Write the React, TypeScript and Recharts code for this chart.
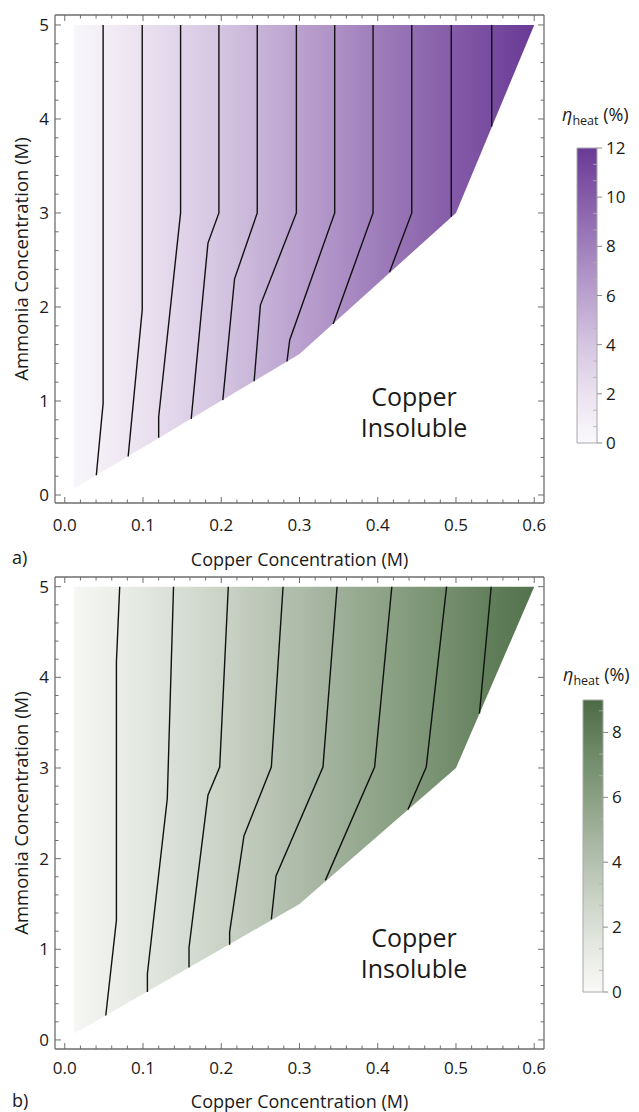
import React from 'react';
import { ComposedChart, BarChart, Bar, Area, Line, XAxis, YAxis } from 'recharts';

const FONT = '"Open Sans", "Noto Sans", "DejaVu Sans", sans-serif';
const AXIS_COLOR = '#6e6e6e';
const TEXT_COLOR = '#1a1a1a';

// ---------- axes ----------
const xMajorTicks = [0, 0.1, 0.2, 0.3, 0.4, 0.5, 0.6];
const xMinorTicks = [0.02, 0.04, 0.06, 0.08, 0.12, 0.14, 0.16, 0.18, 0.22, 0.24, 0.26, 0.28,
  0.32, 0.34, 0.36, 0.38, 0.42, 0.44, 0.46, 0.48, 0.52, 0.54, 0.56, 0.58];
const yMajorTicks = [0, 1, 2, 3, 4, 5];
const yMinorTicks = [0.2, 0.4, 0.6, 0.8, 1.2, 1.4, 1.6, 1.8, 2.2, 2.4, 2.6, 2.8,
  3.2, 3.4, 3.6, 3.8, 4.2, 4.4, 4.6, 4.8];
const xDomain = [-0.0125, 0.6125];
const yDomainA = [-0.085, 5.106];
const yDomainB = [-0.1, 5.107];

// ---------- soluble region (copper soluble) ----------
const boundaryX = [0.012, 0.3, 0.5, 0.6];
const boundaryLowY = [0.07, 1.5, 3.0, 5.0];
const boundaryTopY = 5;

// ---------- contours a) ----------
const levelsA = [1, 2, 3, 4, 5, 6, 7, 8, 9, 10, 11];
const contourAX = [
  [0.049, 0.049, 0.0403],
  [0.099, 0.099, 0.081],
  [0.148, 0.148, 0.12, 0.12],
  [0.197, 0.197, 0.183, 0.1616],
  [0.246, 0.246, 0.217, 0.202],
  [0.296, 0.296, 0.25, 0.242],
  [0.345, 0.345, 0.2875, 0.284],
  [0.394, 0.394, 0.343],
  [0.4435, 0.4435, 0.415],
  [0.494, 0.494],
  [0.5457, 0.5457],
];
const contourAY = [
  [5, 0.975, 0.21],
  [5, 1.97, 0.41],
  [5, 3.0, 0.83, 0.61],
  [5, 3.0, 2.68, 0.81],
  [5, 3.0, 2.3, 1.01],
  [5, 3.0, 2.02, 1.21],
  [5, 3.0, 1.65, 1.42],
  [5, 3.0, 1.82],
  [5, 3.0, 2.37],
  [5, 2.96],
  [5, 3.92],
];

// ---------- contours b) ----------
const levelsB = [1, 2, 3, 4, 5, 6, 7, 8];
const contourBX = [
  [0.0702, 0.066, 0.066, 0.0524],
  [0.139, 0.131, 0.1056, 0.1056],
  [0.209, 0.198, 0.183, 0.1588, 0.1588],
  [0.279, 0.264, 0.229, 0.2107, 0.2107],
  [0.348, 0.33, 0.27, 0.264],
  [0.418, 0.396, 0.333],
  [0.488, 0.462, 0.4385],
  [0.545, 0.53],
];
const contourBY = [
  [5, 4.17, 1.32, 0.27],
  [5, 2.66, 0.73, 0.53],
  [5, 3.01, 2.7, 1.02, 0.8],
  [5, 3.01, 2.25, 1.19, 1.05],
  [5, 3.01, 1.81, 1.33],
  [5, 3.01, 1.76],
  [5, 3.01, 2.54],
  [5, 3.6],
];

// ---------- colour bars ----------
const barMaxA = 12;
const barTicksA = [0, 2, 4, 6, 8, 10, 12];
const barMinorA = [0.667, 1.333, 2.667, 3.333, 4.667, 5.333, 6.667, 7.333, 8.667, 9.333, 10.667, 11.333];
const barMaxB = 9;
const barTicksB = [0, 2, 4, 6, 8];
const barMinorB = [0.667, 1.333, 2.667, 3.333, 4.667, 5.333, 6.667, 7.333, 8.667];
const fillEdgeLevelsA = [0.25, 12];
const fillEdgeLevelsB = [0.2, 8.6];

const purpleMap = ['#faf9fc', '#ebe2f0', '#d5c5e1', '#bba2cf', '#a07fbc', '#855ca8', '#693a96'];
const greenMap = ['#f9f9f7', '#e3e7e0', '#c8d1c4', '#aab8a5', '#8aa083', '#6b8764', '#4c6b45'];

// ---------- helpers ----------
function hexToRgb(h: string) {
  const v = parseInt(h.slice(1), 16);
  return [(v >> 16) & 255, (v >> 8) & 255, v & 255];
}
function cmap(colors: string[], t: number) {
  const tt = Math.max(0, Math.min(1, t));
  const n = colors.length - 1;
  const i = Math.min(n - 1, Math.floor(tt * n));
  const f = tt * n - i;
  const a = hexToRgb(colors[i]);
  const b = hexToRgb(colors[i + 1]);
  const c = a.map((av, k) => Math.round(av + (b[k] - av) * f));
  return `rgb(${c[0]},${c[1]},${c[2]})`;
}
const near = (v: number, step: number) => Math.abs(v / step - Math.round(v / step)) < 1e-6;

const BottomTick = (props: any) => {
  const { x, y, payload, labelDy } = props;
  const v = payload.value;
  const major = near(v, 0.1);
  return (
    <g>
      <line x1={x} x2={x} y1={y} y2={y - (major ? 6 : 3.5)} stroke={AXIS_COLOR} strokeWidth={1} />
      {major && (
        <text x={x} y={y + labelDy} textAnchor="middle" fontSize={17} fontFamily={FONT} fill={TEXT_COLOR}>
          {v.toFixed(1)}
        </text>
      )}
    </g>
  );
};
const TopTick = (props: any) => {
  const { x, y, payload } = props;
  const major = near(payload.value, 0.1);
  return <line x1={x} x2={x} y1={y} y2={y + (major ? 6 : 3.5)} stroke={AXIS_COLOR} strokeWidth={1} />;
};
const LeftTick = (props: any) => {
  const { x, y, payload } = props;
  const v = payload.value;
  const major = near(v, 1);
  return (
    <g>
      <line x1={x} x2={x + (major ? 6 : 3.5)} y1={y} y2={y} stroke={AXIS_COLOR} strokeWidth={1} />
      {major && (
        <text x={x - 6} y={y + 6} textAnchor="end" fontSize={17} fontFamily={FONT} fill={TEXT_COLOR}>
          {String(v)}
        </text>
      )}
    </g>
  );
};
const RightTick = (props: any) => {
  const { x, y, payload } = props;
  const major = near(payload.value, 1);
  return <line x1={x} x2={x - (major ? 6 : 3.5)} y1={y} y2={y} stroke={AXIS_COLOR} strokeWidth={1} />;
};
const BarTick = (props: any) => {
  const { x, y, payload } = props;
  const v = payload.value;
  const major = near(v, 2);
  return major ? (
    <g>
      <line x1={x} x2={x + 5} y1={y} y2={y} stroke="#8a8a8a" strokeWidth={1} />
      <text x={x + 9} y={y + 6} textAnchor="start" fontSize={17} fontFamily={FONT} fill={TEXT_COLOR}>
        {String(v)}
      </text>
    </g>
  ) : (
    <line x1={x - 4} x2={x} y1={y} y2={y} stroke="#b0b0b0" strokeWidth={0.8} />
  );
};

type PanelProps = {
  top: number;
  height: number;
  topAxisH: number;
  bottomAxisH: number;
  yDomain: number[];
  cx: number[][];
  cy: number[][];
  levels: number[];
  colors: string[];
  maxLevel: number;
  edgeLevels: number[];
  fillId: string;
  labelDy: number;
  titleDy: number;
};

function ContourPanel(p: PanelProps) {
  const areaData = boundaryX.map((x, i) => ({ x, band: [boundaryLowY[i], boundaryTopY] }));
  const x0 = boundaryX[0];
  const x1 = boundaryX[boundaryX.length - 1];
  const stops = [
    { o: 0, lv: p.edgeLevels[0] },
    ...p.levels.map((lv, i) => ({ o: (p.cx[i][0] - x0) / (x1 - x0), lv })),
    { o: 1, lv: p.edgeLevels[1] },
  ];
  return (
    <div style={{ position: 'absolute', left: 0, top: p.top }}>
      <ComposedChart width={639} height={p.height} data={areaData} margin={{ top: 0, right: 0, bottom: 0, left: 0 }}>
        <defs>
          <linearGradient id={p.fillId} x1="0" y1="0" x2="1" y2="0">
            {stops.map((s, i) => (
              <stop key={i} offset={s.o} stopColor={cmap(p.colors, s.lv / p.maxLevel)} />
            ))}
          </linearGradient>
        </defs>
        <XAxis
          xAxisId="b"
          dataKey="x"
          type="number"
          orientation="bottom"
          domain={xDomain}
          allowDataOverflow
          ticks={[...xMajorTicks, ...xMinorTicks]}
          interval={0}
          height={p.bottomAxisH}
          tickSize={0}
          tickMargin={0}
          tickLine={false}
          axisLine={{ stroke: AXIS_COLOR, strokeWidth: 1.3 }}
          tick={(tp: any) => <BottomTick {...tp} labelDy={p.labelDy} />}
          label={(lp: any) => {
            const vb = lp.viewBox || {};
            return (
              <text x={vb.x + vb.width / 2} y={vb.y + p.titleDy} textAnchor="middle" dominantBaseline="central"
                fontSize={18} fontFamily={FONT} fill={TEXT_COLOR}>
                Copper Concentration (M)
              </text>
            );
          }}
        />
        <XAxis
          xAxisId="t"
          dataKey="x"
          type="number"
          orientation="top"
          domain={xDomain}
          allowDataOverflow
          ticks={[...xMajorTicks, ...xMinorTicks]}
          interval={0}
          height={p.topAxisH}
          tickSize={0}
          tickMargin={0}
          tickLine={false}
          axisLine={{ stroke: AXIS_COLOR, strokeWidth: 1.3 }}
          tick={(tp: any) => <TopTick {...tp} />}
        />
        <YAxis
          yAxisId="l"
          type="number"
          orientation="left"
          domain={p.yDomain}
          allowDataOverflow
          ticks={[...yMajorTicks, ...yMinorTicks]}
          interval={0}
          width={55}
          tickSize={0}
          tickMargin={0}
          tickLine={false}
          axisLine={{ stroke: AXIS_COLOR, strokeWidth: 1.3 }}
          tick={(tp: any) => <LeftTick {...tp} />}
          label={(lp: any) => {
            const vb = lp.viewBox || {};
            const tx = vb.x + 20;
            const ty = vb.y + vb.height / 2;
            return (
              <text x={tx} y={ty} transform={`rotate(-90 ${tx} ${ty})`} textAnchor="middle" dominantBaseline="central"
                fontSize={18.5} fontFamily={FONT} fill={TEXT_COLOR}>
                Ammonia Concentration (M)
              </text>
            );
          }}
        />
        <YAxis
          yAxisId="r"
          type="number"
          orientation="right"
          domain={p.yDomain}
          allowDataOverflow
          ticks={[...yMajorTicks, ...yMinorTicks]}
          interval={0}
          width={95}
          tickSize={0}
          tickMargin={0}
          tickLine={false}
          axisLine={{ stroke: AXIS_COLOR, strokeWidth: 1.3 }}
          tick={(tp: any) => <RightTick {...tp} />}
        />
        <Area
          xAxisId="b"
          yAxisId="l"
          dataKey="band"
          type="linear"
          stroke="none"
          fill={`url(#${p.fillId})`}
          fillOpacity={1}
          isAnimationActive={false}
          dot={false}
          activeDot={false}
        />
        {p.cx.map((xs, i) => (
          <Line
            key={`c${i}`}
            xAxisId="b"
            yAxisId="l"
            data={xs.map((x, j) => ({ x, y: p.cy[i][j] }))}
            dataKey="y"
            type="linear"
            stroke="#111"
            strokeWidth={1.4}
            dot={false}
            activeDot={false}
            isAnimationActive={false}
          />
        ))}
      </ComposedChart>
    </div>
  );
}

type BarProps = {
  left: number;
  top: number;
  width: number;
  height: number;
  mTop: number;
  mBottom: number;
  mLeft: number;
  max: number;
  ticks: number[];
  minor: number[];
  colors: string[];
  id: string;
};

function ColorBar(b: BarProps) {
  const n = b.colors.length - 1;
  const data = [{ name: 'scale', range: [0, b.max] }];
  return (
    <div style={{ position: 'absolute', left: b.left, top: b.top }}>
      <BarChart width={b.width} height={b.height} data={data} barCategoryGap={0} barGap={0}
        margin={{ top: b.mTop, bottom: b.mBottom, left: b.mLeft, right: 0 }}>
        <defs>
          <linearGradient id={b.id} x1="0" y1="1" x2="0" y2="0">
            {b.colors.map((c, i) => (
              <stop key={i} offset={i / n} stopColor={c} />
            ))}
          </linearGradient>
        </defs>
        <XAxis dataKey="name" type="category" hide />
        <YAxis
          type="number"
          orientation="right"
          domain={[0, b.max]}
          ticks={[...b.ticks, ...b.minor]}
          interval={0}
          width={b.width - b.mLeft - 20}
          tickSize={0}
          tickMargin={0}
          tickLine={false}
          axisLine={false}
          tick={(tp: any) => <BarTick {...tp} />}
        />
        <Bar dataKey="range" fill={`url(#${b.id})`} stroke="#a8a8a8" strokeWidth={1} isAnimationActive={false} />
      </BarChart>
    </div>
  );
}

const BarTitle = ({ left, top }: { left: number; top: number }) => (
  <div style={{ position: 'absolute', left, top, fontFamily: FONT, fontSize: 18, lineHeight: '22px', color: TEXT_COLOR, whiteSpace: 'nowrap' }}>
    <i>η</i>
    <span style={{ fontSize: 12.5, position: 'relative', top: 4 }}>heat</span>
    <span> (%)</span>
  </div>
);

const Note = ({ left, top }: { left: number; top: number }) => (
  <div style={{ position: 'absolute', left, top, width: 200, textAlign: 'center', fontFamily: FONT, fontSize: 25, lineHeight: '31px', color: TEXT_COLOR }}>
    Copper
    <br />
    Insoluble
  </div>
);

const PanelLabel = ({ text, top }: { text: string; top: number }) => (
  <div style={{ position: 'absolute', left: 12, top, fontFamily: FONT, fontSize: 18, lineHeight: '22px', color: TEXT_COLOR }}>{text}</div>
);

export default function App() {
  return (
    <div style={{ position: 'absolute', left: 0, top: 0, width: 639, height: 1112, background: '#fff', overflow: 'hidden' }}>
      <ContourPanel top={0} height={575} topAxisH={15} bottomAxisH={72} yDomain={yDomainA}
        cx={contourAX} cy={contourAY} levels={levelsA} colors={purpleMap} maxLevel={barMaxA}
        edgeLevels={fillEdgeLevelsA} fillId="fillA" labelDy={28} titleDy={56} />
      <ContourPanel top={560} height={552} topAxisH={17} bottomAxisH={63} yDomain={yDomainB}
        cx={contourBX} cy={contourBY} levels={levelsB} colors={greenMap} maxLevel={barMaxB}
        edgeLevels={fillEdgeLevelsB} fillId="fillB" labelDy={25} titleDy={52} />
      <ColorBar left={560} top={130} width={79} height={330} mTop={18} mBottom={17} mLeft={17}
        max={barMaxA} ticks={barTicksA} minor={barMinorA} colors={purpleMap} id="cbA" />
      <ColorBar left={566} top={682} width={73} height={325} mTop={18} mBottom={15} mLeft={17}
        max={barMaxB} ticks={barTicksB} minor={barMinorB} colors={greenMap} id="cbB" />
      <BarTitle left={562} top={103} />
      <BarTitle left={563} top={663} />
      <Note left={314} top={381} />
      <Note left={314} top={922} />
      <PanelLabel text="a)" top={546} />
      <PanelLabel text="b)" top={1089} />
    </div>
  );
}
